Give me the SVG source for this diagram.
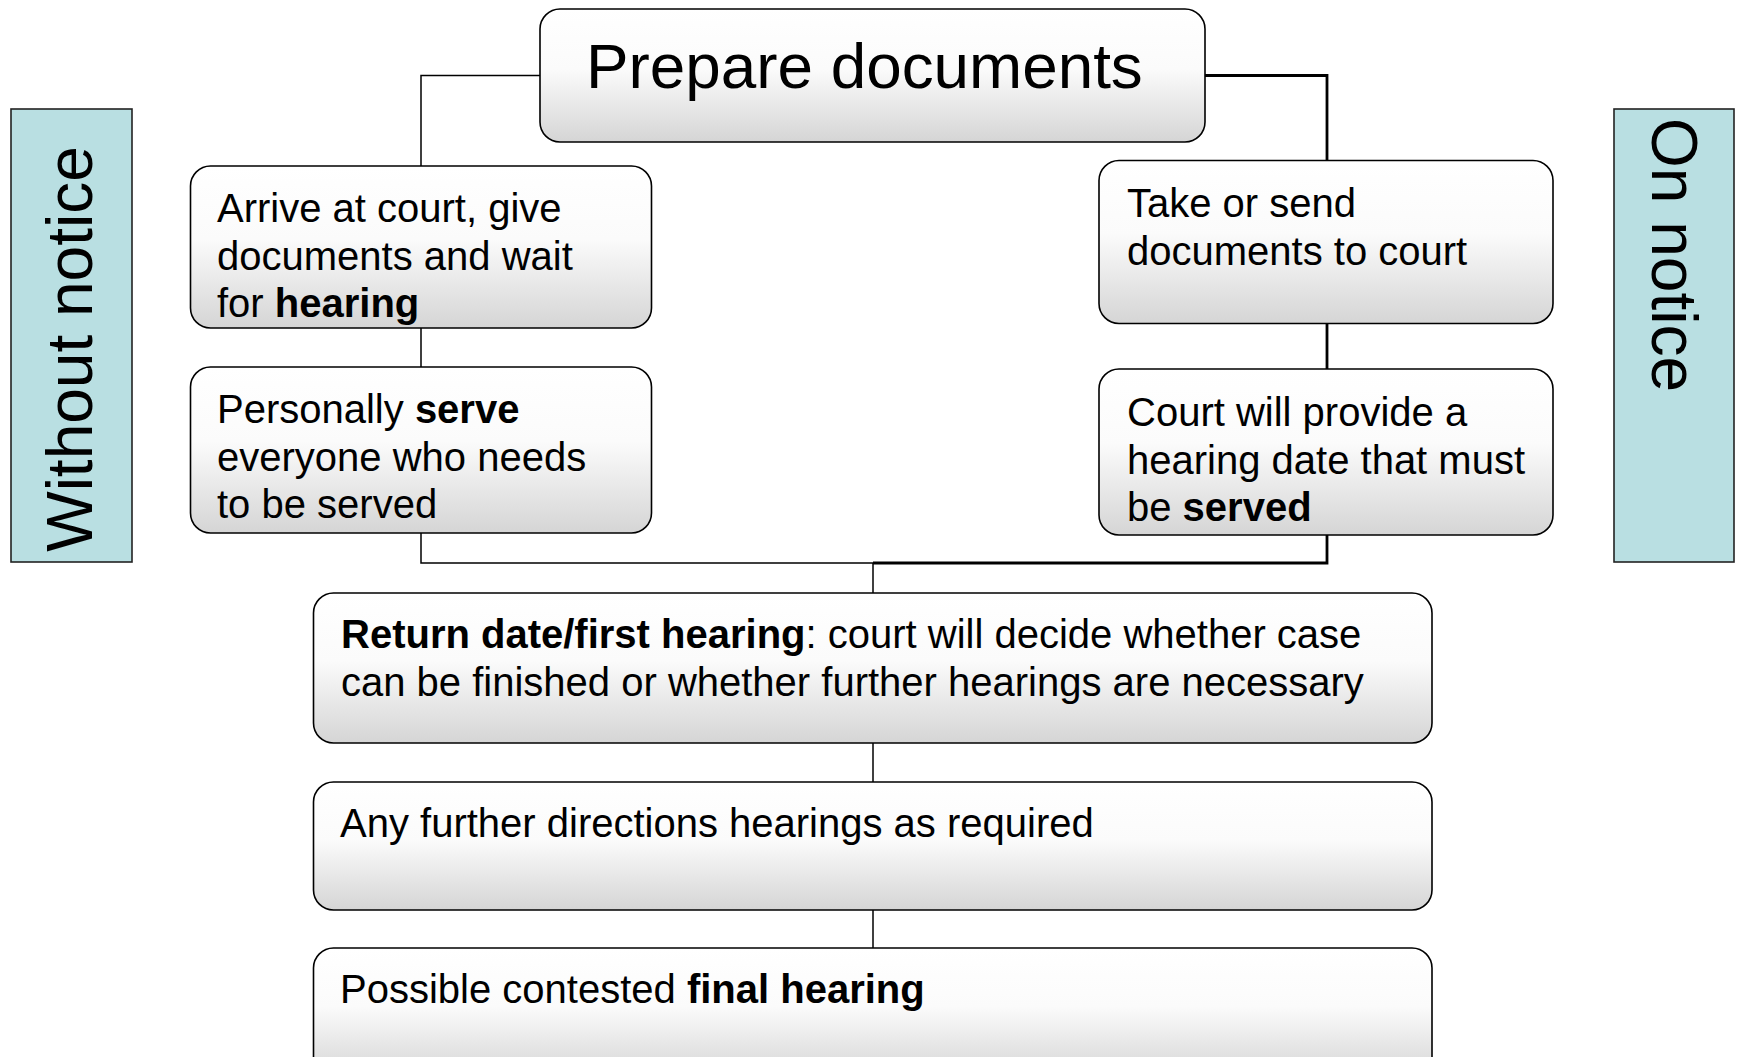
<svg xmlns="http://www.w3.org/2000/svg" width="1737" height="1057" viewBox="0 0 1737 1057">
<defs>
<linearGradient id="g" x1="0" y1="0" x2="0" y2="1">
<stop offset="0" stop-color="#ffffff"/>
<stop offset="0.45" stop-color="#fbfbfb"/>
<stop offset="1" stop-color="#d5d5d5"/>
</linearGradient>
<style>
.box{fill:url(#g);stroke:#000;stroke-width:1.6}
.lab{fill:#b9dfe2;stroke:#222;stroke-width:1.6}
.t{font-family:"Liberation Sans",Arial,sans-serif;font-size:40px;fill:#000}
.big{font-family:"Liberation Sans",Arial,sans-serif;font-size:63.8px;fill:#000}
.side{font-family:"Liberation Sans",Arial,sans-serif;font-size:64px;fill:#000}
.b{font-weight:bold}
.thin{fill:none;stroke:#000;stroke-width:1.5}
.thick{fill:none;stroke:#000;stroke-width:2.8}
</style>
</defs>
<rect width="1737" height="1057" fill="#fff"/>
<g id="connectors">
<path class="thin" d="M540,75.5 H421 V563 H873"/>
<path class="thick" d="M1205,75.5 H1327 V563 H873"/>
<path class="thin" d="M873,563 V1000"/>
</g>
<g id="without-notice">
<rect class="lab" x="11" y="109" width="121" height="453"/>
<text class="side" transform="translate(92,349) rotate(-90)" text-anchor="middle">Without notice</text>
</g>
<g id="on-notice">
<rect class="lab" x="1614" y="109" width="120" height="453"/>
<text class="side" transform="translate(1652,255) rotate(90)" text-anchor="middle">On notice</text>
</g>
<g id="prepare">
<rect class="box" x="540" y="9" width="665" height="133" rx="20"/>
<text class="big" x="586" y="88">Prepare documents</text>
</g>
<g id="arrive">
<rect class="box" x="190.5" y="166" width="461" height="162" rx="20"/>
<text class="t" x="217" y="222">Arrive at court, give</text>
<text class="t" x="217" y="269.5">documents and wait</text>
<text class="t" x="217" y="317">for <tspan class="b">hearing</tspan></text>
</g>
<g id="personally">
<rect class="box" x="190.5" y="367" width="461" height="166" rx="20"/>
<text class="t" x="217" y="423">Personally <tspan class="b">serve</tspan></text>
<text class="t" x="217" y="470.5">everyone who needs</text>
<text class="t" x="217" y="518">to be served</text>
</g>
<g id="take">
<rect class="box" x="1099" y="160.5" width="454" height="163" rx="20"/>
<text class="t" x="1127" y="217">Take or send</text>
<text class="t" x="1127" y="264.5">documents to court</text>
</g>
<g id="court">
<rect class="box" x="1099" y="369" width="454" height="166" rx="20"/>
<text class="t" x="1127" y="426">Court will provide a</text>
<text class="t" x="1127" y="473.5">hearing date that must</text>
<text class="t" x="1127" y="521">be <tspan class="b">served</tspan></text>
</g>
<g id="return">
<rect class="box" x="313.5" y="593" width="1118.5" height="150" rx="20"/>
<text class="t" x="341" y="648"><tspan class="b">Return date/first hearing</tspan>: court will decide whether case</text>
<text class="t" x="341" y="695.5">can be finished or whether further hearings are necessary</text>
</g>
<g id="further">
<rect class="box" x="313.5" y="782" width="1118.5" height="128" rx="20"/>
<text class="t" x="340" y="837">Any further directions hearings as required</text>
</g>
<g id="final">
<rect class="box" x="313.5" y="948" width="1118.5" height="130" rx="20"/>
<text class="t" x="340" y="1003">Possible contested <tspan class="b">final hearing</tspan></text>
</g>
</svg>
